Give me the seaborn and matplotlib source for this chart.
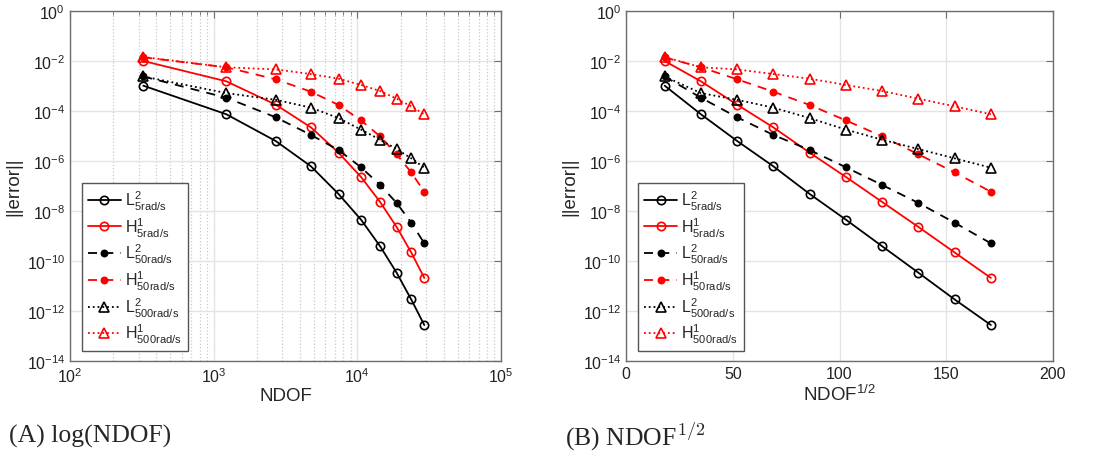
import numpy as np
import pandas as pd
import seaborn as sns
import matplotlib
matplotlib.use("Agg")
import matplotlib.pyplot as plt
from matplotlib.ticker import LogLocator, LogFormatterSciNotation, NullFormatter, NullLocator, FixedLocator

# Degrees of freedom of the refinement sequence
ndof = [324, 1225, 2704, 4761, 7396, 10609, 14400, 18769, 23716, 29241]

# Error norms per frequency
l2_5 = [1.03e-3, 7.4e-5, 6.3e-6, 6.1e-7, 4.8e-8, 4.5e-9, 3.9e-10, 3.4e-11, 2.9e-12, 2.75e-13]
h1_5 = [1.0e-2, 1.54e-3, 1.79e-4, 2.2e-5, 2.15e-6, 2.3e-7, 2.3e-8, 2.3e-9, 2.2e-10, 2.1e-11]
l2_50 = [2.4e-3, 3.4e-4, 5.6e-5, 1.1e-5, 2.75e-6, 5.6e-7, 1.1e-7, 2.1e-8, 3.4e-9, 5.1e-10]
h1_50 = [1.4e-2, 5.6e-3, 1.85e-3, 5.9e-4, 1.74e-4, 4.2e-5, 9.7e-6, 1.85e-6, 3.5e-7, 5.9e-8]
l2_500 = [2.4e-3, 5.2e-4, 2.8e-4, 1.36e-4, 5.2e-5, 1.8e-5, 7.1e-6, 3.0e-6, 1.28e-6, 5.4e-7]
h1_500 = [1.45e-2, 5.6e-3, 4.6e-3, 3.0e-3, 1.96e-3, 1.1e-3, 6.3e-4, 3.1e-4, 1.54e-4, 7.4e-5]

labels = [r"$\mathregular{L^2_{5rad/s}}$", r"$\mathregular{H^1_{5rad/s}}$",
          r"$\mathregular{L^2_{50rad/s}}$", r"$\mathregular{H^1_{50rad/s}}$",
          r"$\mathregular{L^2_{500rad/s}}$", r"$\mathregular{H^1_{500rad/s}}$"]
values = [l2_5, h1_5, l2_50, h1_50, l2_500, h1_500]

# (color, linestyle, marker, filled, markersize)
styles = [("black", "-", "o", False, 6),
          ("#ff0000", "-", "o", False, 6),
          ("black", (0, (5, 4)), "o", True, 4.5),
          ("#ff0000", (0, (5, 4)), "o", True, 4.5),
          ("black", ":", "^", False, 7),
          ("#ff0000", ":", "^", False, 7)]

rows = []
for lab, vals in zip(labels, values):
    for n, v in zip(ndof, vals):
        rows.append({"series": lab, "ndof": n, "sqrt_ndof": np.sqrt(n), "err": v})
df = pd.DataFrame(rows)

sns.set_style("white")
plt.rcParams["font.family"] = ["Liberation Sans", "DejaVu Sans"]
plt.rcParams["mathtext.fontset"] = "custom"
plt.rcParams["mathtext.rm"] = "Liberation Sans"
plt.rcParams["mathtext.it"] = "Liberation Sans:italic"
plt.rcParams["mathtext.bf"] = "Liberation Sans:bold"

fig = plt.figure(figsize=(10.94, 4.52), dpi=100)
ax1 = fig.add_axes([70 / 1094, 90 / 452, 431 / 1094, 350 / 452])
ax2 = fig.add_axes([626.3 / 1094, 90 / 452, 426.4 / 1094, 350 / 452])

spine_col = "#6e6e6e"
for ax, xcol in ((ax1, "ndof"), (ax2, "sqrt_ndof")):
    for lab, (col, ls, mk, filled, ms) in zip(labels, styles):
        sub = df[df["series"] == lab]
        sns.lineplot(data=sub, x=xcol, y="err", ax=ax, estimator=None, sort=False,
                     color=col, linestyle=ls, linewidth=1.3, marker=mk, markersize=ms,
                     markerfacecolor=(col if filled else "none"), markeredgecolor=col,
                     markeredgewidth=1.2, label=lab)
    ax.set_yscale("log")
    ax.set_ylim(1e-14, 1)
    ax.yaxis.set_major_locator(FixedLocator([10.0 ** k for k in range(-14, 1, 2)]))
    ax.yaxis.set_major_formatter(LogFormatterSciNotation())
    ax.yaxis.set_minor_locator(NullLocator())
    ax.set_ylabel("||error||", fontsize=13.5, labelpad=3)
    ax.set_axisbelow(True)
    ax.grid(which="major", color="#e4e4e4", linewidth=1.0)
    for s in ax.spines.values():
        s.set_visible(True)
        s.set_color(spine_col)
        s.set_linewidth(1.0)
    ax.tick_params(which="both", direction="in", top=True, right=True,
                   color=spine_col, labelsize=11.5, labelcolor="#222222")
    ax.tick_params(which="major", length=5)
    ax.tick_params(which="minor", length=3)
    leg = ax.legend(loc="lower left", bbox_to_anchor=(12 / 431, 10 / 350), borderaxespad=0,
                    fontsize=11.5, handlelength=2.1, labelspacing=0.22, borderpad=0.35,
                    handletextpad=0.25, fancybox=False, framealpha=1, edgecolor="#555555")
    leg.get_frame().set_linewidth(1.0)

ax1.set_xscale("log")
ax1.set_xlim(1e2, 1e5)
ax1.xaxis.set_major_locator(LogLocator(base=10, numticks=10))
ax1.xaxis.set_minor_locator(LogLocator(base=10, subs=np.arange(2, 10), numticks=20))
ax1.xaxis.set_minor_formatter(NullFormatter())
ax1.grid(which="minor", axis="x", color="#c8c8c8", linestyle=":", linewidth=0.9)
ax1.set_xlabel("NDOF", fontsize=13.5, labelpad=2)

ax2.set_xlim(0, 200)
ax2.set_xticks([0, 50, 100, 150, 200])
ax2.set_xlabel(r"NDOF$\mathregular{^{1/2}}$", fontsize=13.5, labelpad=2)

fig.text(9 / 1094, 1 - 436 / 452, "(A) log(NDOF)", fontsize=18.5, va="center", ha="left",
         family=["Liberation Serif", "DejaVu Serif"])
fig.text(565 / 1094, 1 - 436 / 452, r"(B) NDOF$^{1/2}$", fontsize=18.5, va="center", ha="left",
         family=["Liberation Serif", "DejaVu Serif"], math_fontfamily="cm")

fig.savefig("out.png", dpi=100)
